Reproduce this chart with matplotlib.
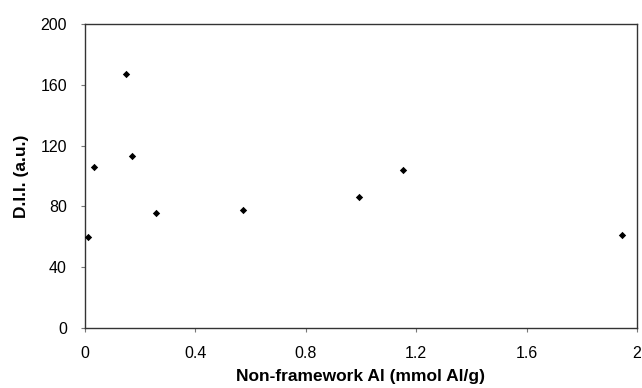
import matplotlib
matplotlib.use('Agg')
import matplotlib.pyplot as plt

plt.rcParams['font.family'] = ['Liberation Sans', 'DejaVu Sans']

nf_al = [0.01, 0.034, 0.147, 0.169, 0.258, 0.571, 0.994, 1.153, 1.944]
dii = [60, 105.7, 167.3, 113.4, 75.8, 77.8, 86.0, 103.7, 61.0]

xticks = [0, 0.4, 0.8, 1.2, 1.6, 2]
xlabels = ['0', '0.4', '0.8', '1.2', '1.6', '2']
yticks = [0, 40, 80, 120, 160, 200]

fig = plt.figure(figsize=(6.42, 3.88), dpi=100)
ax = fig.add_axes([0.1324, 0.1546, 0.8598, 0.7834])
ax.scatter(nf_al, dii, marker='D', s=14, color='black', linewidths=0, zorder=3)
ax.set_xlim(0, 2)
ax.set_ylim(0, 200)
ax.set_xticks(xticks, xlabels)
ax.set_yticks(yticks)
for s in ax.spines.values():
	s.set_color('#333333')
	s.set_linewidth(1.0)
ax.tick_params(direction='out', length=3, width=0.8, color='#777777', labelsize=11.5)
ax.tick_params(axis='y', pad=10)
ax.tick_params(axis='x', pad=10)
ax.set_xlabel('Non-framework Al (mmol Al/g)', fontsize=12.5, fontweight='bold', labelpad=6)
ax.set_ylabel('D.I.I. (a.u.)', fontsize=12.5, fontweight='bold', labelpad=8)
fig.savefig('out.png', dpi=100)
plt.close()
